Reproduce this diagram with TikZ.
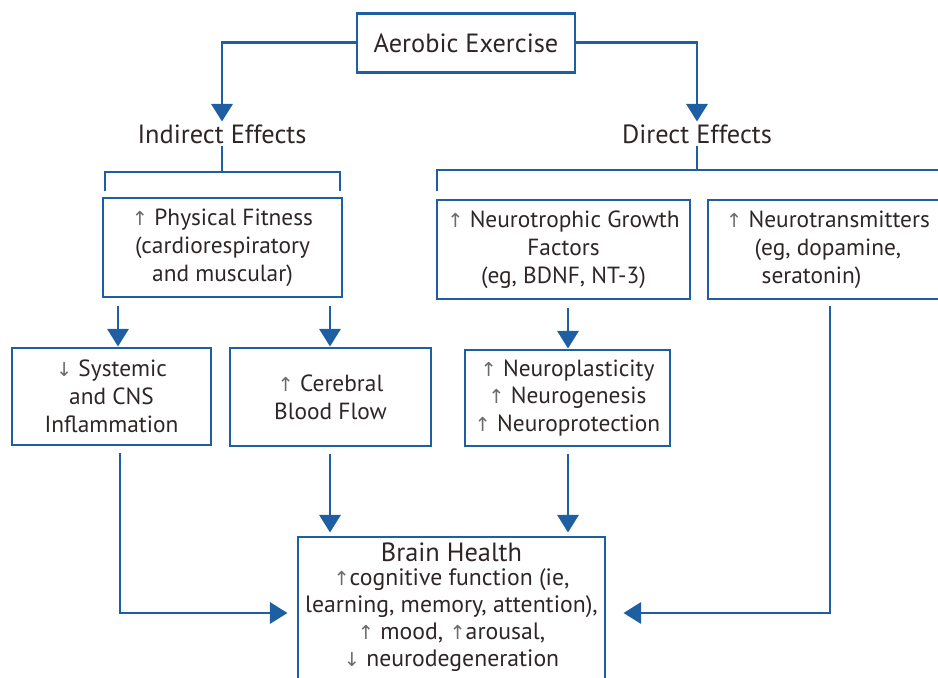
\documentclass[tikz,border=0pt]{standalone}
\usepackage{fontspec}
\setmainfont{PT Sans}
\newfontfamily\arrowfont{DejaVu Sans}
\usetikzlibrary{arrows.meta}

\definecolor{fxblue}{HTML}{1E5FA3}
\definecolor{fxtext}{HTML}{2E2626}
\definecolor{fxarrow}{HTML}{6E6A6A}

\newcommand{\uparr}{{\color{fxarrow}\arrowfont\fontsize{11}{12}\selectfont ↑}}
\newcommand{\dnarr}{{\color{fxarrow}\arrowfont\fontsize{11}{12}\selectfont ↓}}

\tikzset{
  fxbox/.style={draw=fxblue, line width=1.7pt, align=center, inner sep=0pt,
    text=fxtext, font=\fontsize{13.3}{15.9}\selectfont},
  fxsize/.style 2 args={minimum width=#1*0.02cm, minimum height=#2*0.02cm},
  fxlabel/.style={text=fxtext, inner sep=1.5pt, font=\fontsize{15}{17}\selectfont},
  fxline/.style={draw=fxblue, line width=1.7pt},
  fxlink/.style={fxline, -{Triangle[width=12pt,length=10pt]}}
}

\begin{document}
\begin{tikzpicture}[x=0.02cm, y=-0.02cm]
        \clip (0,0) rectangle (938,678);
        \useasboundingbox (0,0) rectangle (938,678);

        % Top box and the two labels
        \node[fxbox, fxsize={218}{59}, font=\fontsize{15}{17}\selectfont] (ae) at (466,43) {Aerobic Exercise};
        \node[fxlabel] (ind) at (222,134) {Indirect Effects};
        \node[fxlabel] (dir) at (697,134) {Direct Effects};

        % Boxes, first row
        \node[fxbox, fxsize={239}{99}] (pf) at (222.5,247.5) {\uparr\ Physical Fitness\\(cardiorespiratory\\and muscular)};
        \node[fxbox, fxsize={253}{99}] (nf) at (563.5,249.5) {\uparr\ Neurotrophic Growth\\Factors\\(eg, BDNF, NT-3)};
        \node[fxbox, fxsize={240}{99}] (nt) at (828,249.5) {\uparr\ Neurotransmitters\\(eg, dopamine,\\seratonin)\hspace*{11\pgflinewidth}};

        % Boxes, second row
        \node[fxbox, fxsize={199}{97}] (sy) at (111.5,396.5) {\dnarr\ Systemic\\and CNS\\Inflammation};
        \node[fxbox, fxsize={201}{98}] (cb) at (330.5,397) {\uparr\ Cerebral\\Blood Flow};
        \node[fxbox, fxsize={205}{96}] (np) at (567.5,398) {\uparr\ Neuroplasticity\\\uparr\ Neurogenesis\\\uparr\ Neuroprotection};

        % Brain health (runs off the bottom)
        \node[fxbox, fxsize={307}{152}] (br) at (451.5,613) {};
        \node[text=fxtext, align=center, inner sep=0pt, font=\fontsize{13.5}{15.4}\selectfont, anchor=north]
          (brtxt) at (451.5,542) {{\fontsize{15}{16}\selectfont Brain Health}\\[-1.5pt]
          \uparr cognitive function (ie,\\learning, memory, attention),\\\uparr\ mood, \uparr arousal,\\\dnarr\ neurodegeneration};

        % Coordinates for the vertical runs
        \coordinate (c1) at (118,0);
        \coordinate (c2) at (120,0);
        \coordinate (c3) at (330,0);
        \coordinate (c4) at (568,0);
        \coordinate (c5) at (830,0);

        % Brackets under the labels
        \coordinate (lb) at (222,172);
        \coordinate (rb) at (697,170);
        \draw[fxline] (ind.south) -- (lb);
        \draw[fxline] (105,191) |- (lb) -| (340,191);
        \draw[fxline] (dir.south) -- (rb);
        \draw[fxline] (437,191) |- (rb) -- (945,170);

        % Arrows from the top box
        \draw[fxlink] (ae.west) -| (ind.north);
        \draw[fxlink] (ae.east) -| (dir.north);

        % Arrows between the rows
        \draw[fxlink, shorten <=8*0.02cm] (pf.south -| c1) -- (sy.north -| c1);
        \draw[fxlink, shorten <=8*0.02cm] (pf.south -| c3) -- (cb.north -| c3);
        \draw[fxlink, shorten <=8*0.02cm] (nf.south -| c4) -- (np.north -| c4);

        % Arrows into brain health
        \draw[fxlink, shorten <=7*0.02cm, shorten >=3*0.02cm] (cb.south -| c3) -- (br.north -| c3);
        \draw[fxlink, shorten <=7*0.02cm, shorten >=3*0.02cm] (np.south -| c4) -- (br.north -| c4);
        \draw[fxlink, shorten <=7*0.02cm, shorten >=9*0.02cm] (sy.south -| c2) |- (br.west);
        \draw[fxlink, shorten <=6*0.02cm, shorten >=17*0.02cm] (nt.south -| c5) |- (br.east);

    \end{tikzpicture}
\end{document}
